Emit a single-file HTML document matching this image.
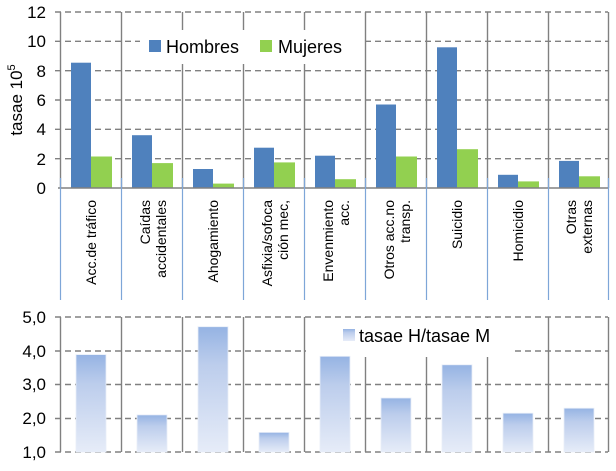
<!DOCTYPE html>
<html><head><meta charset="utf-8"><style>
html,body{margin:0;padding:0;background:#fff;}
svg{display:block;font-family:"Liberation Sans",sans-serif;}
</style></head><body>
<svg width="616" height="471" viewBox="0 0 616 471" xmlns="http://www.w3.org/2000/svg">
<defs>
<linearGradient id="g" x1="0" y1="0" x2="0" y2="1">
<stop offset="0" stop-color="#95b3e3"/><stop offset="0.3" stop-color="#bccdec"/><stop offset="1" stop-color="#e6ecf8"/>
</linearGradient>
</defs>
<!-- TOP CHART -->
<g stroke="#808080" stroke-dasharray="6,4" stroke-width="1.4">
<line x1="55" y1="12" x2="608" y2="12"/>
<line x1="55" y1="41.3" x2="608" y2="41.3"/>
<line x1="55" y1="70.7" x2="608" y2="70.7"/>
<line x1="55" y1="100" x2="608" y2="100"/>
<line x1="55" y1="129.3" x2="608" y2="129.3"/>
<line x1="55" y1="158.7" x2="608" y2="158.7"/>
</g>
<g stroke="#808080" stroke-width="1.4">
<line x1="60.5" y1="12" x2="60.5" y2="188"/>
<line x1="121.5" y1="12" x2="121.5" y2="188"/>
<line x1="182.5" y1="12" x2="182.5" y2="188"/>
<line x1="243.5" y1="12" x2="243.5" y2="188"/>
<line x1="304.5" y1="12" x2="304.5" y2="188"/>
<line x1="365.5" y1="12" x2="365.5" y2="188"/>
<line x1="426.5" y1="12" x2="426.5" y2="188"/>
<line x1="487.5" y1="12" x2="487.5" y2="188"/>
<line x1="548.5" y1="12" x2="548.5" y2="188"/>
<line x1="608.5" y1="12" x2="608.5" y2="188"/>
</g>
<rect x="140" y="30" width="222" height="34" fill="#fff"/>
<g fill="#4f81bd">
<rect x="71" y="62.7" width="20" height="125.3"/>
<rect x="132" y="135.2" width="20" height="52.8"/>
<rect x="193" y="169" width="20" height="19"/>
<rect x="254" y="147.7" width="20" height="40.3"/>
<rect x="315" y="155.7" width="20" height="32.3"/>
<rect x="376" y="104.5" width="20" height="83.5"/>
<rect x="437" y="47.3" width="20" height="140.7"/>
<rect x="498" y="174.8" width="20" height="13.2"/>
<rect x="559" y="160.9" width="20" height="27.1"/>
</g>
<g fill="#92d050">
<rect x="91" y="156.5" width="21" height="31.5"/>
<rect x="152" y="163.1" width="21" height="24.9"/>
<rect x="213" y="183.6" width="21" height="4.4"/>
<rect x="274" y="162.4" width="21" height="25.6"/>
<rect x="335" y="179.2" width="21" height="8.8"/>
<rect x="396" y="156.5" width="21" height="31.5"/>
<rect x="457" y="149.2" width="21" height="38.8"/>
<rect x="518" y="181.4" width="21" height="6.6"/>
<rect x="579" y="176.3" width="21" height="11.7"/>
</g>
<line x1="58" y1="188" x2="608" y2="188" stroke="#808080" stroke-width="1.4"/>
<g stroke="#7ea6d8" stroke-width="1.2">
<line x1="60.5" y1="178" x2="60.5" y2="300"/>
<line x1="121.5" y1="178" x2="121.5" y2="300"/>
<line x1="182.5" y1="178" x2="182.5" y2="300"/>
<line x1="243.5" y1="178" x2="243.5" y2="300"/>
<line x1="304.5" y1="178" x2="304.5" y2="300"/>
<line x1="365.5" y1="178" x2="365.5" y2="300"/>
<line x1="426.5" y1="178" x2="426.5" y2="300"/>
<line x1="487.5" y1="178" x2="487.5" y2="300"/>
<line x1="548.5" y1="178" x2="548.5" y2="300"/>
<line x1="608.5" y1="178" x2="608.5" y2="300"/>
</g>
<g font-size="17" fill="#000" text-anchor="end">
<text x="46" y="18">12</text>
<text x="46" y="47">10</text>
<text x="46" y="77">8</text>
<text x="46" y="106">6</text>
<text x="46" y="135">4</text>
<text x="46" y="165">2</text>
<text x="46" y="194">0</text>
</g>
<text transform="translate(22,100) rotate(-90)" font-size="17" text-anchor="middle">tasae 10<tspan font-size="11" dy="-7">5</tspan></text>
<rect x="149" y="40" width="12" height="12" fill="#4f81bd"/>
<text x="166" y="53" font-size="18">Hombres</text>
<rect x="260" y="40" width="12" height="12" fill="#92d050"/>
<text x="278" y="53" font-size="18">Mujeres</text>
<g font-size="14" text-anchor="end">
<text transform="translate(96,200) rotate(-90)">Acc.de tráfico</text>
<text transform="translate(150,200) rotate(-90)">Caídas</text>
<text transform="translate(166,200) rotate(-90)">accidentales</text>
<text transform="translate(218,200) rotate(-90)">Ahogamiento</text>
<text transform="translate(272,200) rotate(-90)">Asfixia/sofoca</text>
<text transform="translate(288,200) rotate(-90)">ción mec,</text>
<text transform="translate(333,200) rotate(-90)">Envenmiento</text>
<text transform="translate(349,200) rotate(-90)">acc.</text>
<text transform="translate(394,200) rotate(-90)">Otros acc.no</text>
<text transform="translate(410,200) rotate(-90)">transp.</text>
<text transform="translate(462,200) rotate(-90)">Suicidio</text>
<text transform="translate(523,200) rotate(-90)">Homicidio</text>
<text transform="translate(576,200) rotate(-90)">Otras</text>
<text transform="translate(592,200) rotate(-90)">externas</text>
</g>
<!-- BOTTOM CHART -->
<g stroke="#808080" stroke-dasharray="6,4" stroke-width="1.4">
<line x1="55" y1="317" x2="608" y2="317"/>
<line x1="55" y1="351" x2="608" y2="351"/>
<line x1="55" y1="384.5" x2="608" y2="384.5"/>
<line x1="55" y1="418.5" x2="608" y2="418.5"/>
<line x1="55" y1="452" x2="608" y2="452"/>
</g>
<g stroke="#808080" stroke-width="1.4">
<line x1="60.5" y1="317" x2="60.5" y2="452"/>
<line x1="121.5" y1="317" x2="121.5" y2="452"/>
<line x1="182.5" y1="317" x2="182.5" y2="452"/>
<line x1="243.5" y1="317" x2="243.5" y2="452"/>
<line x1="304.5" y1="317" x2="304.5" y2="452"/>
<line x1="365.5" y1="317" x2="365.5" y2="452"/>
<line x1="426.5" y1="317" x2="426.5" y2="452"/>
<line x1="487.5" y1="317" x2="487.5" y2="452"/>
<line x1="548.5" y1="317" x2="548.5" y2="452"/>
<line x1="608.5" y1="317" x2="608.5" y2="452"/>
</g>
<rect x="306" y="318" width="207" height="39" fill="#fff"/>
<g fill="url(#g)" stroke="#e8eef8" stroke-width="0.8">
<rect x="76" y="354.6" width="30" height="97.4"/>
<rect x="137" y="414.9" width="30" height="37.1"/>
<rect x="198" y="326.7" width="30" height="125.3"/>
<rect x="259" y="432.4" width="30" height="19.6"/>
<rect x="320" y="356.3" width="30" height="95.7"/>
<rect x="381" y="398" width="30" height="54"/>
<rect x="442" y="364.8" width="30" height="87.2"/>
<rect x="503" y="413.2" width="30" height="38.8"/>
<rect x="564" y="408.2" width="30" height="43.8"/>
</g>
<g font-size="17" text-anchor="end">
<text x="46" y="323">5,0</text>
<text x="46" y="357">4,0</text>
<text x="46" y="390">3,0</text>
<text x="46" y="424">2,0</text>
<text x="46" y="458">1,0</text>
</g>
<rect x="343" y="329" width="12" height="12" fill="url(#g)"/>
<text x="359" y="342" font-size="18">tasae H/tasae M</text>
</svg>
</body></html>
